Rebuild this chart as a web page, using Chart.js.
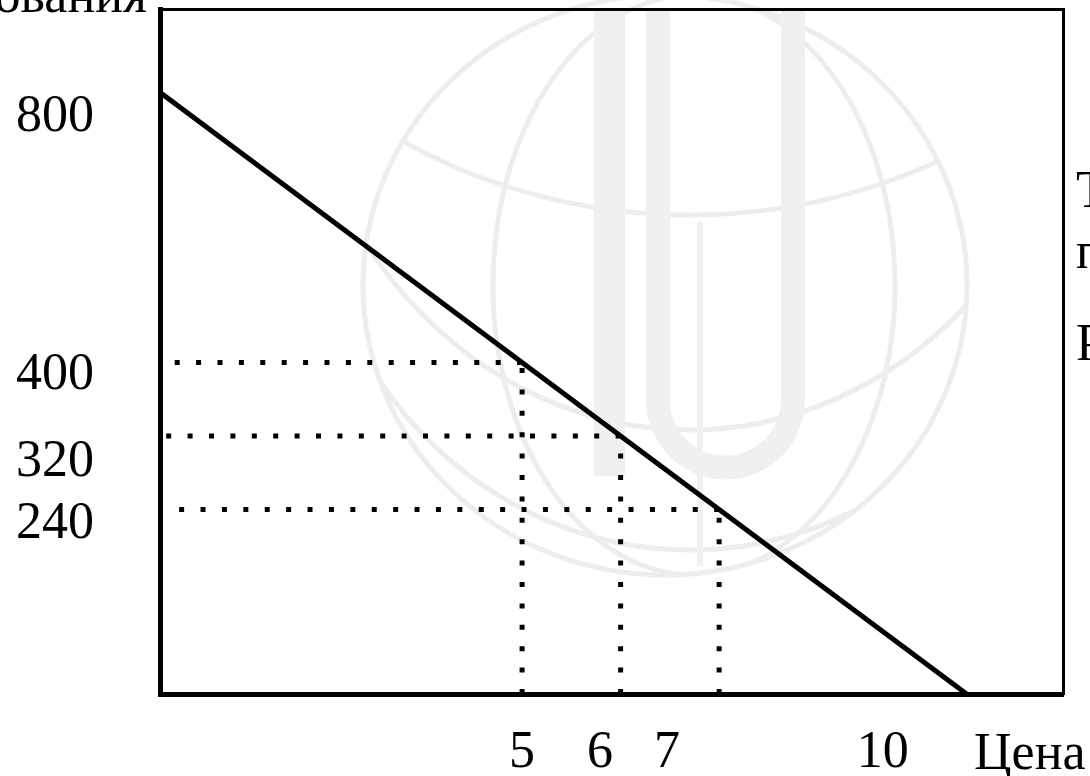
<!DOCTYPE html>
<html>
<head>
<meta charset="utf-8">
<script src="https://cdn.jsdelivr.net/npm/chart.js@4.4.1/dist/chart.umd.min.js"></script>
<style>
  html, body { margin: 0; padding: 0; background: #ffffff; }
  #wrap { width: 1090px; height: 776px; position: relative; overflow: hidden; }
</style>
</head>
<body>
<div id="wrap"><canvas id="c" width="1090" height="776"></canvas></div>
<script>
// Demand curve: Q = 800 - 80P
const prices = [0, 5, 6, 7, 10];
const quantities = [800, 400, 320, 240, 0];

// Marked points (dotted guide lines)
const markedPrices = [5, 6, 7];
const markedQuantities = [400, 320, 240];

// Tick labels and where they were printed along each axis (axis units)
const xTickLabels = ['5', '6', '7', '10'];
const xTickLabelAt = [5, 5.79, 6.47, 8.66];
const yTickLabels = ['800', '400', '320', '240'];
const yTickLabelAt = [667, 385.5, 291.8, 224.3];

// Visible (cropped) axis window
const xRange = [1.325, 10.49];
const yRange = [39.05, 784.9];

const xAxisTitle = 'Цена';
const yAxisTitle = 'Объем использования';
const sideNotes = ['Т', 'п', 'Р'];

const SERIF = '"Liberation Serif", "Times New Roman", "DejaVu Serif", serif';

const datasets = [];
datasets.push({
  label: 'Спрос',
  data: prices.map((p, i) => ({ x: p, y: quantities[i] })),
  borderColor: '#000000',
  borderWidth: 5,
  pointRadius: 0,
  fill: false,
  tension: 0,
  order: 0
});
markedPrices.forEach((p, i) => {
  const q = markedQuantities[i];
  datasets.push({
    label: 'v' + p,
    data: [{ x: p, y: yRange[0] }, { x: p, y: q }],
    borderColor: '#000000',
    borderWidth: 5,
    borderDash: [5, 16.4],
    borderCapStyle: 'butt',
    pointRadius: 0,
    fill: false,
    order: 1
  });
  datasets.push({
    label: 'h' + q,
    data: [{ x: p, y: q }, { x: xRange[0], y: q }],
    borderColor: '#000000',
    borderWidth: 5,
    borderDash: [5, 16.4],
    borderCapStyle: 'butt',
    pointRadius: 0,
    fill: false,
    order: 1
  });
});

const watermark = {
  id: 'watermark',
  beforeDraw(chart) {
    const ctx = chart.ctx;
    ctx.save();
    ctx.strokeStyle = '#ededed';
    ctx.fillStyle = '#f0f0f0';
    ctx.lineWidth = 5;
    // globe outline
    ctx.beginPath(); ctx.ellipse(665, 285, 302, 290, 0, 0, Math.PI * 2); ctx.stroke();
    ctx.save();
    ctx.beginPath(); ctx.ellipse(665, 285, 300, 288, 0, 0, Math.PI * 2); ctx.clip();
    ctx.beginPath(); ctx.ellipse(694, 285, 201, 290, 0, 0, Math.PI * 2); ctx.stroke();
    // latitude arcs
    ctx.beginPath(); ctx.ellipse(690, -230, 520, 445, 0, 0, Math.PI); ctx.stroke();
    ctx.beginPath(); ctx.ellipse(690, -20, 400, 450, 0, 0, Math.PI); ctx.stroke();
    ctx.beginPath(); ctx.ellipse(690, 150, 380, 400, 0, 0, Math.PI); ctx.stroke();
    ctx.restore();
    // central emblem
    ctx.fillRect(594, 11, 31, 465);
    ctx.lineWidth = 24;
    ctx.strokeStyle = '#f0f0f0';
    ctx.beginPath();
    ctx.moveTo(658, 11); ctx.lineTo(658, 400);
    ctx.arc(725.5, 400, 67.5, Math.PI, 0, true);
    ctx.lineTo(793, 11);
    ctx.stroke();
    ctx.lineWidth = 6;
    ctx.beginPath(); ctx.moveTo(700, 222); ctx.lineTo(700, 566); ctx.stroke();
    ctx.restore();
  }
};

const texts = {
  id: 'texts',
  afterDraw(chart) {
    const ctx = chart.ctx;
    ctx.save();
    ctx.fillStyle = '#000000';
    ctx.font = '52px ' + SERIF;
    ctx.textBaseline = 'alphabetic';
    ctx.textAlign = 'left';
    ctx.fillText(xAxisTitle, 974, 769);
    ctx.textAlign = 'right';
    ctx.fillText(yAxisTitle, 147, 12);
    ctx.textAlign = 'left';
    const base = [207, 268, 360];
    sideNotes.forEach((t, i) => ctx.fillText(t, 1076, base[i]));
    ctx.restore();
  }
};

const tickFont = { family: SERIF, size: 52 };

new Chart(document.getElementById('c'), {
  type: 'line',
  data: { datasets },
  options: {
    responsive: false,
    animation: false,
    devicePixelRatio: 1,
    layout: { padding: 0 },
    plugins: { legend: { display: false }, tooltip: { enabled: false } },
    scales: {
      x: {
        type: 'linear', position: 'bottom', min: xRange[0], max: xRange[1],
        grid: { display: false, drawTicks: false },
        border: { display: true, color: '#000000', width: 5 },
        ticks: {
          autoSkip: false, maxRotation: 0, padding: 28, color: '#000000', font: tickFont,
          callback: (v, i) => xTickLabels[i]
        },
        afterBuildTicks: s => { s.ticks = xTickLabelAt.map(v => ({ value: v })); },
        afterFit: s => { s.height = 82; s.paddingLeft = 0; s.paddingRight = 0; }
      },
      y: {
        type: 'linear', position: 'left', min: yRange[0], max: yRange[1],
        grid: { display: false, drawTicks: false },
        border: { display: true, color: '#000000', width: 5 },
        ticks: {
          autoSkip: false, padding: 66, color: '#000000', font: tickFont,
          callback: (v, i) => yTickLabels[i]
        },
        afterBuildTicks: s => { s.ticks = yTickLabelAt.map(v => ({ value: v })); },
        afterFit: s => { s.width = 160; s.paddingTop = 0; s.paddingBottom = 0; }
      },
      x2: {
        type: 'linear', position: 'top', axis: 'x',
        grid: { display: false, drawTicks: false },
        border: { display: true, color: '#000000', width: 3 },
        ticks: { display: false },
        afterFit: s => { s.height = 9; s.paddingLeft = 0; s.paddingRight = 0; }
      },
      y2: {
        type: 'linear', position: 'right', axis: 'y',
        grid: { display: false, drawTicks: false },
        border: { display: true, color: '#000000', width: 3 },
        ticks: { display: false },
        afterFit: s => { s.width = 27; s.paddingTop = 0; s.paddingBottom = 0; }
      }
    }
  },
  plugins: [watermark, texts]
});
</script>
</body>
</html>
